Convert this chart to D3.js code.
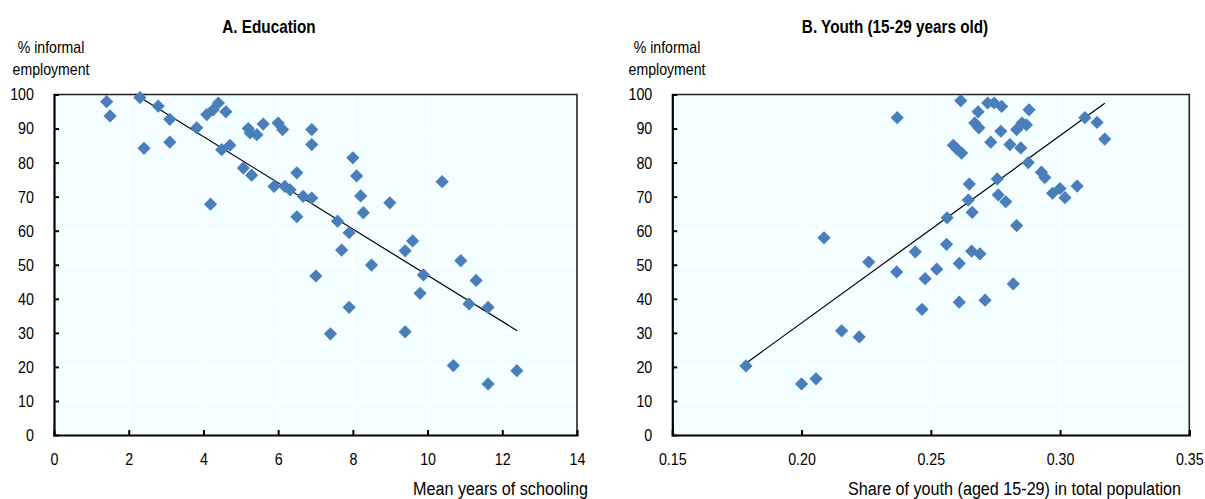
<!DOCTYPE html>
<html>
<head>
<meta charset="utf-8">
<script src="https://cdn.jsdelivr.net/npm/d3@7"></script>
<style>
  body { margin: 0; background: #fff; }
  svg { display: block; }
  text { font-family: "Liberation Sans", Arial, sans-serif; fill: #000; }
</style>
</head>
<body>
<svg id="chart" width="1205" height="499"></svg>
<script>
// ---- Data: Panel A (Education) ----
const eduYears = [1.41, 1.50, 2.30, 2.41, 2.79, 3.10, 3.10, 3.82, 4.09, 4.26, 4.40, 4.60, 4.19, 4.49, 4.71,
  5.07, 5.29, 5.20, 5.25, 5.43, 5.60, 6.00, 6.12, 5.89, 6.18, 6.32, 6.50, 6.67, 6.90, 6.50, 6.90, 6.90,
  8.00, 8.10, 8.21, 8.28, 8.99, 10.39, 7.59, 7.90, 7.70, 8.50, 9.60, 9.40, 10.89,
  7.01, 7.90, 7.40, 9.89, 9.80, 9.40, 11.30, 11.11, 11.62, 10.69, 11.62, 12.39];
const eduInformal = [97.9, 93.7, 99.1, 84.2, 96.6, 92.7, 86.0, 90.2, 94.1, 95.5, 97.5, 94.9, 67.8, 83.8, 85.1,
  78.4, 76.3, 90.0, 88.7, 88.2, 91.3, 91.6, 89.7, 73.0, 73.0, 72.0, 77.0, 70.1, 69.6, 64.1, 89.7, 85.3,
  81.4, 76.1, 70.2, 65.3, 68.2, 74.4, 62.8, 59.4, 54.3, 49.9, 57.0, 54.1, 51.2,
  46.7, 37.5, 29.7, 47.0, 41.6, 30.3, 45.4, 38.5, 37.5, 20.4, 15.0, 18.9];
const eduTrend = { xStart: 1.4, xEnd: 12.4, intercept: 114.8, slope: -6.79 };

// ---- Data: Panel B (Youth share) ----
const youthShare = [0.2370, 0.2087, 0.2260, 0.2440, 0.1785, 0.2000, 0.2056, 0.2155, 0.2223, 0.2368, 0.2478,
  0.2466, 0.2523, 0.2610, 0.2610, 0.2710, 0.2819, 0.2658, 0.2690,
  0.2616, 0.2720, 0.2745, 0.2774, 0.2880, 0.2683, 0.2670, 0.2686, 0.2771, 0.2832, 0.2853, 0.2870,
  0.2732, 0.2806, 0.2848, 0.2587, 0.2602, 0.2619, 0.2877, 0.2928, 0.2941, 0.2757, 0.2649, 0.3066,
  0.2971, 0.3000, 0.3019, 0.2761, 0.2790, 0.2645, 0.2660, 0.2563, 0.2832, 0.2561,
  0.3096, 0.3143, 0.3173];
const youthInformal = [93.2, 57.9, 50.8, 53.8, 20.3, 15.0, 16.5, 30.6, 28.8, 47.9, 45.9,
  36.9, 48.7, 50.4, 39.0, 39.6, 44.4, 54.0, 53.2,
  98.2, 97.5, 97.5, 96.5, 95.5, 94.9, 91.6, 90.2, 89.2, 89.7, 91.6, 91.1,
  86.0, 85.3, 84.3, 85.1, 83.9, 82.8, 80.0, 77.2, 75.6, 75.2, 73.7, 73.1,
  71.0, 72.4, 69.7, 70.5, 68.5, 69.0, 65.4, 63.8, 61.5, 56.0,
  93.2, 91.8, 86.9];
const youthTrend = { xStart: 0.1784, xEnd: 0.3173, intercept: -77.1, slope: 550 };

// ---- Tick labels ----
const yTicks = [0, 10, 20, 30, 40, 50, 60, 70, 80, 90, 100];
const eduXTicks = [0, 2, 4, 6, 8, 10, 12, 14];
const youthXTicks = [0.15, 0.20, 0.25, 0.30, 0.35];

const titles = ["A. Education", "B. Youth (15-29 years old)"];
const yLabelLines = ["% informal", "employment"];
const xLabels = ["Mean years of schooling", "Share of youth (aged 15-29) in total population"];

const svg = d3.select("#chart");
const markerColor = "#4A7EBB";

// narrow-text helper: places a horizontally condensed text at (x, y)
function narrowText(parent, x, y, str, size, sx, anchor, bold) {
  return parent.append("text")
    .attr("transform", `translate(${x},${y}) scale(${sx},1)`)
    .attr("text-anchor", anchor)
    .attr("font-size", size)
    .attr("font-weight", bold ? "bold" : null)
    .text(str);
}

function panel(cfg) {
  const g = svg.append("g");
  const x = d3.scaleLinear().domain(cfg.xDomain).range([cfg.left, cfg.right]);
  const y = d3.scaleLinear().domain([0, 100]).range([435, 94.5]);

  g.append("rect").attr("x", cfg.left).attr("y", y(100))
    .attr("width", cfg.right - cfg.left).attr("height", y(0) - y(100))
    .attr("fill", "#F2FEFF");

  g.selectAll(".hg").data(yTicks.slice(1, -1)).enter().append("line")
    .attr("x1", cfg.left).attr("x2", cfg.right)
    .attr("y1", d => y(d)).attr("y2", d => y(d))
    .attr("stroke", "#fff").attr("stroke-width", 1.6);
  g.selectAll(".vg").data(cfg.xTicks.slice(1, -1)).enter().append("line")
    .attr("y1", y(0)).attr("y2", y(100))
    .attr("x1", d => x(d)).attr("x2", d => x(d))
    .attr("stroke", "#fff").attr("stroke-width", 1.6);

  g.append("path")
    .attr("d", `M${cfg.left},${y(100)}H${cfg.right}V${y(0)}`)
    .attr("fill", "none").attr("stroke", "#222").attr("stroke-width", 1.6);

  const t = cfg.trend;
  const tx0 = t.slope < 0 ? Math.max(t.xStart, (100 - t.intercept) / t.slope) : t.xStart;
  const line = d3.line().x(d => x(d)).y(d => y(t.intercept + t.slope * d));
  g.append("path").datum([tx0, t.xEnd]).attr("d", line)
    .attr("fill", "none").attr("stroke", "#000").attr("stroke-width", 1.2);

  const s = 6.6;
  g.selectAll(".pt").data(cfg.xs.map((v, i) => [v, cfg.ys[i]])).enter().append("path")
    .attr("d", `M0,${-s}L${s},0L0,${s}L${-s},0Z`)
    .attr("transform", d => `translate(${x(d[0])},${y(d[1])})`)
    .attr("fill", markerColor);

  const TS = 17, TSX = 0.84;
  const yAxis = d3.axisLeft(y).tickValues(yTicks).tickSize(-5).tickPadding(20).tickFormat(d3.format("d"));
  const ya = g.append("g").attr("transform", `translate(${cfg.left},0)`).call(yAxis);
  const xAxis = d3.axisBottom(x).tickValues(cfg.xTicks).tickSize(-5).tickPadding(18).tickFormat(cfg.fmt);
  const xa = g.append("g").attr("transform", `translate(0,${y(0)})`).call(xAxis);
  [ya, xa].forEach(a => {
    a.select(".domain").attr("stroke", "#000").attr("stroke-width", 2.2);
    a.selectAll(".tick line").attr("stroke", "#000").attr("stroke-width", 2);
    a.selectAll(".tick text").attr("font-size", TS).attr("font-family", null).attr("fill", "#000");
  });
  ya.selectAll(".tick text").each(function() {
    const el = d3.select(this); const xv = +el.attr("x");
    el.attr("x", 0).attr("transform", `translate(${xv},0) scale(${TSX},1)`);
  });
  xa.selectAll(".tick text").each(function() {
    const el = d3.select(this); const yv = +el.attr("y");
    el.attr("y", 0).attr("transform", `translate(0,${yv}) scale(${TSX},1)`);
  });
  ya.selectAll(".tick").filter(d => d === 100 || d === 0).select("line").remove();
  xa.selectAll(".tick").filter((d, i) => i === 0 || i === cfg.xTicks.length - 1).select("line").remove();

  narrowText(g, cfg.titleX, 33, cfg.title, 18, 0.85, "middle", true);
  yLabelLines.forEach((l, i) => narrowText(g, cfg.yLabX, 53 + i * 22, l, 16.5, 0.855, "middle", false));
  narrowText(g, cfg.xLabEnd, 495, cfg.xLabel, 19, 0.85, "end", false);
}

panel({ left: 54, right: 577, xDomain: [0, 14], xTicks: eduXTicks, fmt: d3.format("d"),
  xs: eduYears, ys: eduInformal, trend: eduTrend, title: titles[0], titleX: 269, yLabX: 51,
  xLabel: xLabels[0], xLabEnd: 588 });
panel({ left: 672.3, right: 1189.3, xDomain: [0.15, 0.35], xTicks: youthXTicks, fmt: d3.format(".2f"),
  xs: youthShare, ys: youthInformal, trend: youthTrend, title: titles[1], titleX: 895, yLabX: 667,
  xLabel: xLabels[1], xLabEnd: 1181 });
</script>
</body>
</html>
